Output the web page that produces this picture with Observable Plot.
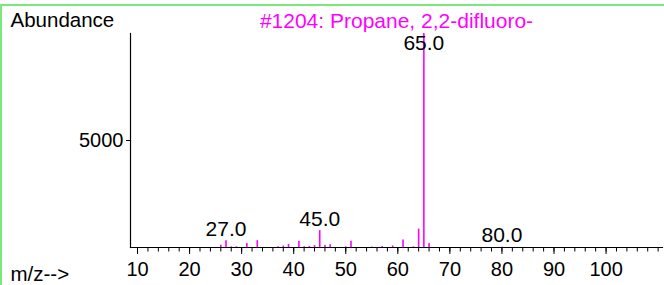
<!DOCTYPE html>
<html>
<head>
<meta charset="utf-8">
<script src="https://cdn.jsdelivr.net/npm/d3@7"></script>
<script src="https://cdn.jsdelivr.net/npm/@observablehq/plot@0.6"></script>
<style>
  html, body { margin: 0; padding: 0; background: #fff; }
  #wrap { position: relative; width: 664px; height: 285px; overflow: hidden; }
  #frame { position: absolute; left: 0; top: 4px; width: 662px; height: 281px;
           border-top: 2px solid #7ae87a; border-left: 2px solid #7ae87a; pointer-events: none; }
  svg { font-family: "Liberation Sans", Arial, sans-serif; }
</style>
</head>
<body>
<div id="wrap"><div id="frame"></div></div>
<script>
const title = "#1204: Propane, 2,2-difluoro-";
const yLabel = "Abundance";
const xLabel = "m/z-->";
const mz =        [26, 27, 28, 29, 31, 33, 37, 38, 39, 41, 42, 43, 44, 45, 46, 47, 50, 51, 55, 57, 59, 61, 63, 64, 65, 66, 80];
const abundance = [110, 320, 30, 30, 190, 320, 30, 70, 140, 290, 40, 50, 90, 790, 95, 125, 30, 290, 20, 45, 70, 350, 30, 860, 10000, 185, 15];
const labeledPeaks = [27, 45, 65, 80];
const xMajorTicks = [10, 20, 30, 40, 50, 60, 70, 80, 90, 100];
const xMinorTicks = d3.range(10, 111, 2);
const yTicks = [5000];

const peaks = mz.map((m, i) => ({mz: m, abundance: abundance[i]}));
const labels = peaks.filter(d => labeledPeaks.includes(d.mz));
const magenta = "#ff00ff";

const chart = Plot.plot({
  width: 664,
  height: 285,
  marginLeft: 130,
  marginRight: 2,
  marginTop: 33,
  marginBottom: 38,
  style: {fontFamily: "'Liberation Sans', Arial, sans-serif", fontSize: "20px", color: "#000", background: "transparent"},
  x: {domain: [8.65, 110.84], label: null},
  y: {domain: [0, 10000], label: null},
  marks: [
    Plot.ruleX(peaks, {x: "mz", y1: 0, y2: "abundance", stroke: magenta, strokeWidth: 1.6}),
    Plot.frame({anchor: "left", stroke: "#000", strokeWidth: 1.2}),
    Plot.frame({anchor: "bottom", stroke: "#000", strokeWidth: 1.2}),
    Plot.axisX({ticks: xMinorTicks, tickSize: 4.5, text: null, stroke: "#000", label: null}),
    Plot.axisX({ticks: xMajorTicks, tickSize: 7, tickPadding: 7, fontSize: 20, fill: "#000", stroke: "#000", label: null}),
    Plot.axisY({ticks: yTicks, tickSize: 4, tickPadding: 3, tickFormat: d => String(d), fontSize: 20, fill: "#000", label: null}),
    Plot.text(labels, {x: "mz", y: d => Math.min(d.abundance, 9000), text: d => d.mz.toFixed(1), lineAnchor: "bottom", dy: -5, fontSize: 21, fill: "#000"}),
    Plot.text([title], {frameAnchor: "top", dy: -20, fill: magenta, fontSize: 21}),
    Plot.text([yLabel], {frameAnchor: "top-left", dx: -120, dy: -21, textAnchor: "start", fill: "#000", fontSize: 20.5}),
    Plot.text([xLabel], {frameAnchor: "bottom-left", dx: -120, dy: 33, textAnchor: "start", fill: "#000", fontSize: 20.5})
  ]
});
document.getElementById("wrap").prepend(chart);
</script>
</body>
</html>
